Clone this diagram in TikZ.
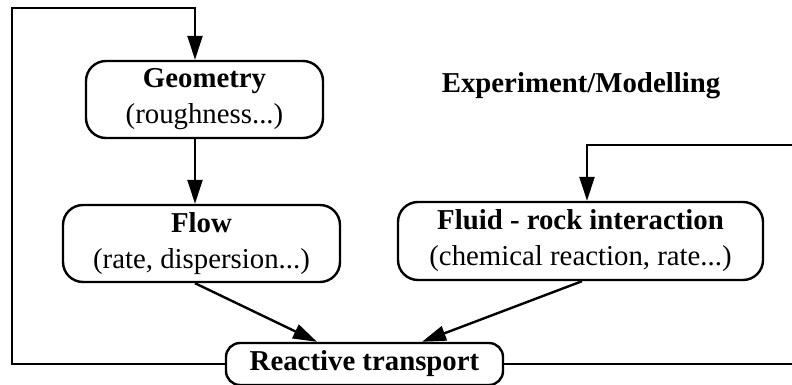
\documentclass[tikz,border=0pt]{standalone}
\usepackage{fontspec}
\setmainfont{Liberation Serif}
\usetikzlibrary{arrows.meta,calc}

\begin{document}
\begin{tikzpicture}[x=0.5pt,y=-0.5pt,
  box/.style={draw,line width=1.2pt,rounded corners=10pt,align=center,
    inner sep=0pt,font=\fontsize{14.4}{18}\selectfont},
  link/.style={line width=1.2pt,-{Triangle[length=12pt,width=7.5pt]}}]
        \useasboundingbox (0,0) rectangle (792,385) ;
        \clip (0,0) rectangle (792,385) ;
        % boxes
        \node[box,minimum width=118.5pt,minimum height=38.5pt] (geo) at (204.5,99.5)
        {\textbf{Geometry}\\(roughness...)} ;
        \node[box,minimum width=138.5pt,minimum height=38.5pt] (flow) at (201.5,243.5)
        {\textbf{Flow}\\(rate, dispersion...)} ;
        \node[box,minimum width=182.5pt,minimum height=39pt] (fluid) at (580.5,241)
        {\textbf{Fluid - rock interaction}\\(chemical reaction, rate...)} ;
        \node[box,rounded corners=7pt,minimum width=138.5pt,minimum height=21pt,
        font=\fontsize{14.4}{18}\selectfont\bfseries] (rt) at (364.5,364)
        {Reactive transport} ;
        \node[font=\fontsize{14.4}{18}\selectfont\bfseries] (title) at (581,85.5)
        {Experiment/Modelling} ;
        % loop points
        \coordinate (loopL) at (12,8) ;
        \coordinate (loopT) at (195,8) ;
        \coordinate (loopR) at (800,145) ;
        \coordinate (loopF) at (587,145) ;
        % arrows
        \draw[link] (rt.west) -| (loopL) -| (geo.north -| loopT) ;
        \draw[link] (geo.south -| loopT) -- (flow.north -| loopT) ;
        \draw[link] (flow.south -| loopT) -- ($(rt.north)+(-47.5,0)$) ;
        \draw[link] ($(fluid.south)+(1.5,0)$) -- ($(rt.north)+(57.5,0)$) ;
        \draw[link] (rt.east) -| (loopR) -- (loopF) -- (fluid.north -| loopF) ;
      \end{tikzpicture}
\end{document}
